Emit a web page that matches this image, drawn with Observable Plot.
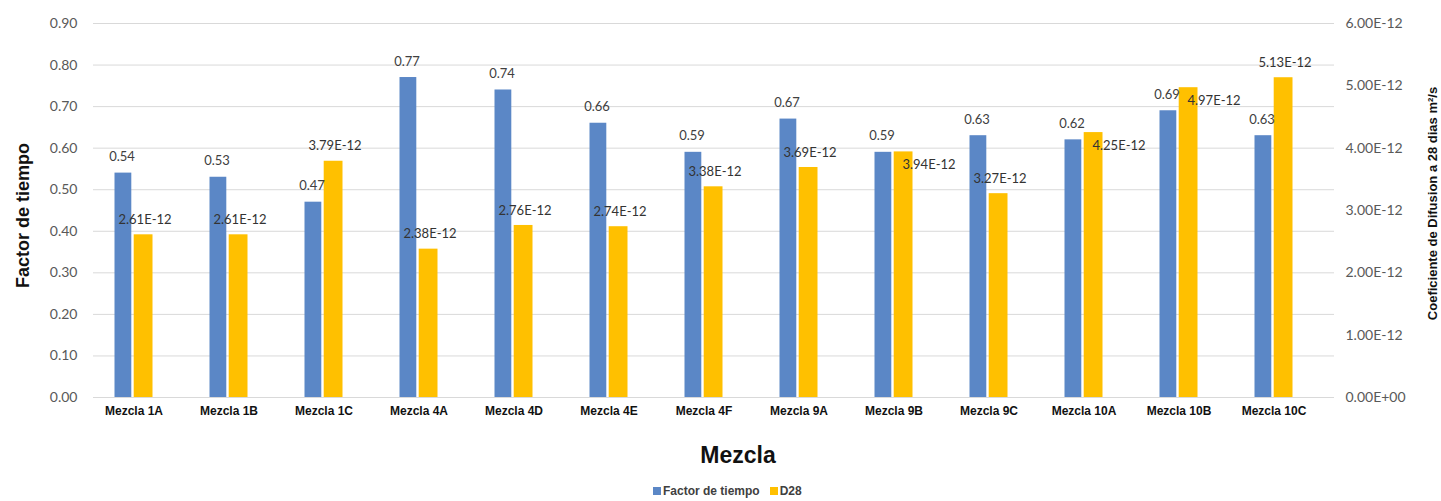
<!DOCTYPE html>
<html>
<head>
<meta charset="utf-8">
<script src="https://cdn.jsdelivr.net/npm/d3@7"></script>
<script src="https://cdn.jsdelivr.net/npm/@observablehq/plot@0.6"></script>
<style>
  html, body { margin: 0; padding: 0; background: #fff; }
  #wrap { position: relative; width: 1441px; height: 501px; overflow: hidden; }
  #legend { position: absolute; top: 484px; left: 653px; display: flex; align-items: center;
    font-family: "Liberation Sans Narrow", "Arial Narrow", "Liberation Sans", sans-serif;
    font-weight: bold; font-size: 12px; color: #404040; white-space: nowrap; }
  #legend .sw { display: inline-block; width: 8px; height: 8px; margin-right: 2px; }
  #legend .item { display: flex; align-items: center; margin-right: 10px; }
</style>
</head>
<body>
<div id="wrap">
  <div id="chart"></div>
  <div id="legend"></div>
</div>
<script>
// ---- data ----
const mezclas = ["Mezcla 1A","Mezcla 1B","Mezcla 1C","Mezcla 4A","Mezcla 4D","Mezcla 4E","Mezcla 4F",
                 "Mezcla 9A","Mezcla 9B","Mezcla 9C","Mezcla 10A","Mezcla 10B","Mezcla 10C"];
const factorTiempo = [0.54,0.53,0.47,0.77,0.74,0.66,0.59,0.67,0.59,0.63,0.62,0.69,0.63];
const d28 = [2.61,2.61,3.79,2.38,2.76,2.74,3.38,3.69,3.94,3.27,4.25,4.97,5.13]; // ×1E-12 m²/s
const leftTicks = [0,0.1,0.2,0.3,0.4,0.5,0.6,0.7,0.8,0.9];
const rightTicks = [0,1,2,3,4,5,6]; // ×1E-12
const seriesNames = ["Factor de tiempo","D28"];
const seriesColors = ["#5b87c6","#ffc000"];

const LEFT_MAX = 0.9, RIGHT_MAX = 6;
const toLeft = v => v * LEFT_MAX / RIGHT_MAX;
const fmtE = v => v === 0 ? "0.00E+00" : v.toFixed(2) + "E-12";

const rows = mezclas.map((m, i) => ({m, f: factorTiempo[i], d: d28[i]}));
// D28 labels that would collide with the Factor label go beside the bar instead of above it
const collides = d => Math.abs(toLeft(d.d) - d.f) < 0.06;
const above = rows.filter(d => !collides(d));
const beside = rows.filter(collides);

const numFont = "Lato, 'Open Sans', sans-serif";
const narrow = "'Liberation Sans Narrow', 'Arial Narrow', 'Liberation Sans', sans-serif";
const boldSans = "'Liberation Sans', Arial, sans-serif";

const chart = Plot.plot({
  width: 1441,
  height: 478,
  marginLeft: 83,
  marginRight: 117,
  marginTop: 23,
  marginBottom: 81,
  style: {fontFamily: numFont, fontSize: "14px", background: "#fff"},
  x: {domain: mezclas, padding: 0, label: null},
  y: {domain: [0, LEFT_MAX], label: null},
  marks: [
    Plot.ruleY(leftTicks, {stroke: "#d9d9d9", strokeWidth: 1, insetLeft: 10, insetRight: -10}),
    Plot.barY(rows, {x: "m", y: "f", fill: seriesColors[0], insetLeft: 28.5, insetRight: 49.7}),
    Plot.barY(rows, {x: "m", y: d => toLeft(d.d), fill: seriesColors[1], insetLeft: 47.7, insetRight: 28.5}),
    Plot.text(rows, {x: "m", y: "f", text: d => d.f.toFixed(2), dx: -12, dy: -16,
      fill: "#404040", fontSize: 13, fontFamily: numFont}),
    Plot.text(above, {x: "m", y: d => toLeft(d.d), text: d => fmtE(d.d), dx: 11, dy: -15,
      fill: "#333", fontSize: 13, fontFamily: numFont}),
    Plot.text(beside, {x: "m", y: d => toLeft(d.d), text: d => fmtE(d.d), dx: 35, dy: 13,
      fill: "#333", fontSize: 13, fontFamily: numFont}),
    Plot.axisY(leftTicks, {anchor: "left", tickSize: 0, tickPadding: 6, tickFormat: d => d.toFixed(2),
      label: null, fill: "#595959", fontSize: 14}),
    Plot.axisY(rightTicks.map(toLeft), {anchor: "right", tickSize: 0, tickPadding: 21,
      tickFormat: (d, i) => fmtE(rightTicks[i]), label: null, fill: "#595959", fontSize: 14}),
    Plot.axisX({tickSize: 0, tickPadding: 9, label: null, fontFamily: narrow, fontWeight: "bold",
      fontSize: 12, fill: "#111"}),
    Plot.text(["Factor de tiempo"], {frameAnchor: "left", textAnchor: "middle", dx: -60, dy: 5, rotate: -90,
      fontFamily: boldSans, fontWeight: "bold", fontSize: 18, fill: "#111"}),
    Plot.text(["Coeficiente de Difusion a 28 dias m²/s"], {frameAnchor: "right", textAnchor: "middle",
      dx: 108, dy: -7, rotate: -90,
      fontFamily: boldSans, fontWeight: "bold", fontSize: 13, fill: "#111"}),
    Plot.text(["Mezcla"], {frameAnchor: "bottom", textAnchor: "middle", dx: 34, dy: 65,
      fontFamily: boldSans, fontWeight: "bold", fontSize: 23, fill: "#111"})
  ]
});
document.getElementById("chart").appendChild(chart);

const legend = document.getElementById("legend");
seriesNames.forEach((name, i) => {
  const item = document.createElement("span");
  item.className = "item";
  const sw = document.createElement("span");
  sw.className = "sw";
  sw.style.background = seriesColors[i];
  item.appendChild(sw);
  item.appendChild(document.createTextNode(name));
  legend.appendChild(item);
});
</script>
</body>
</html>
